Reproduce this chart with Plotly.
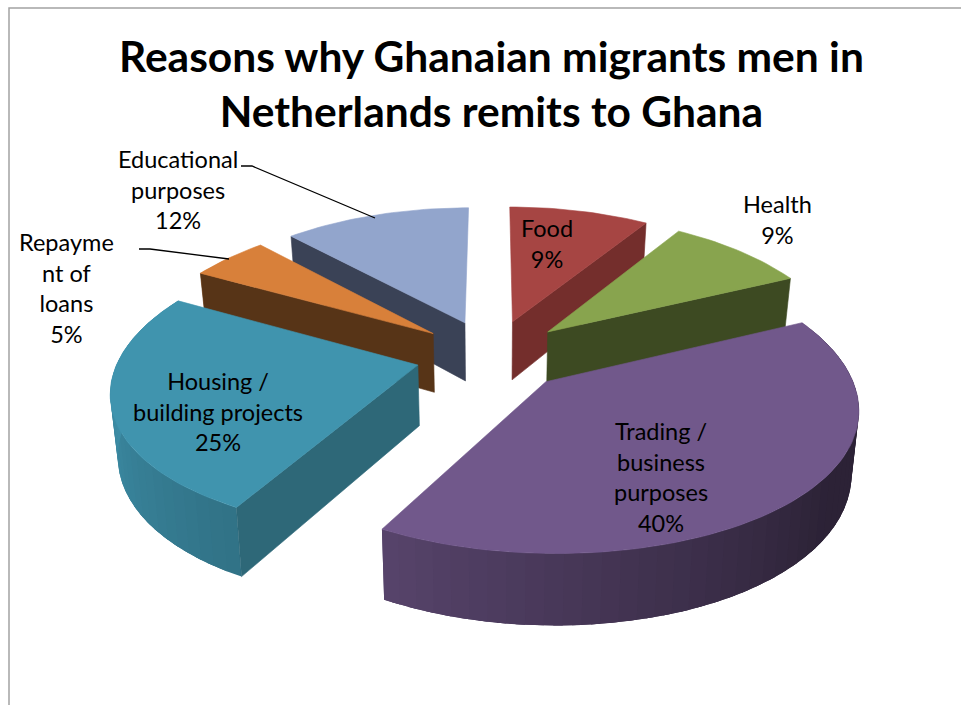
import numpy as np
import plotly.graph_objects as go

# Remittance shares, clockwise from twelve o'clock
categories = ["Food", "Health", "Trading / business purposes", "Housing / building projects",
              "Repayment of loans", "Educational purposes"]
shares = [9, 9, 40, 25, 5, 12]
top_colors = ["#A64543", "#88A44E", "#71588B", "#4094AE", "#D8803A", "#92A5CC"]
face_colors = ["#742E2C", "#3D4A22", "#3A2D48", "#2E6878", "#573417", "#3A4256"]
title_text = "Reasons why Ghanaian migrants men in<br>Netherlands remits to Ghana"
label_lines = ["Food", "Health", "Trading /<br>business<br>purposes", "Housing /<br>building projects",
               "Repayme<br>nt of<br>loans", "Educational<br>purposes"]
label_anchor = [(547, 243), (777, 219), (661, 477), (218, 411), (66, 288), (178, 189)]

# Camera used to flatten the exploded pie onto the page
CX, CY = 492.0, 355.0
SCALE_X, SCALE_Y = 298.0, 139.5
PERSPECTIVE_X = 0.16
PERSPECTIVE_Y = 0.14
EXPLODE = 0.256
THICKNESS = 60.0
BOTTOM_SHRINK = 0.98
FONT = "Lato"
LABEL_SIZE = 23.5
TITLE_SIZE = 42.5


def project(x, y, lower=False):
    wx = 1 + PERSPECTIVE_X * y
    wy = 1 + PERSPECTIVE_Y * y
    q = BOTTOM_SHRINK if lower else 1.0
    drop = THICKNESS / wy if lower else 0.0
    return CX + SCALE_X * x / wx * q, CY - SCALE_Y * y / wy + drop


def wall_shade(theta):
    # Light falls from the left, so the rim darkens towards the lower right
    return np.interp(theta, [125, 208, 270], [0.39, 0.77, 0.97])


def scale_color(hex_color, factor):
    rgb = [int(hex_color[i:i + 2], 16) for i in (1, 3, 5)]
    return "rgb({},{},{})".format(*[int(c * factor) for c in rgb])


def polygon(xs, ys, color, width=0.6):
    return go.Scatter(x=xs, y=ys, mode="lines", fill="toself", fillcolor=color,
                      line=dict(color=color, width=width), hoverinfo="skip", showlegend=False)


edges = np.concatenate([[0], np.cumsum(shares)]) / sum(shares) * 360
fig = go.Figure()

# Painter's order: back slices first, the large front slice last
for i in [5, 0, 1, 4, 3, 2]:
    a0, a1 = edges[i], edges[i + 1]
    mid = np.radians((a0 + a1) / 2)
    ox, oy = EXPLODE * np.sin(mid), EXPLODE * np.cos(mid)
    theta = np.arange(a0, a1 + 1.5, 1.5)
    theta[-1] = a1
    rx = ox + np.sin(np.radians(theta))
    ry = oy + np.cos(np.radians(theta))

    # Rim, shaded piece by piece; each piece runs under the next so no seams show
    for j in range(0, len(theta) - 1, 2):
        t = theta[j:j + 6]
        if t.max() < 70 or t.min() > 300:
            continue
        px = ox + np.sin(np.radians(t))
        py = oy + np.cos(np.radians(t))
        ux, uy = project(px, py)
        lx, ly = project(px, py, lower=True)
        shade = wall_shade(theta[j:j + 3].mean())
        fig.add_trace(polygon(np.r_[ux, lx[::-1], ux[0]], np.r_[uy, ly[::-1], uy[0]],
                              scale_color(top_colors[i], shade), width=0))

    # Cut faces, keeping only those turned towards the viewer
    for k, normal in ((0, a0 - 90), (-1, a1 + 90)):
        if np.cos(np.radians(normal)) >= 0:
            continue
        xa, ya = project(ox, oy)
        xb, yb = project(rx[k], ry[k])
        xc, yc = project(rx[k], ry[k], lower=True)
        xd, yd = project(ox, oy, lower=True)
        fig.add_trace(polygon([xa, xb, xc, xd, xa], [ya, yb, yc, yd, ya], face_colors[i]))

    # Top surface
    tx, ty = project(np.r_[ox, rx, ox], np.r_[oy, ry, oy])
    fig.add_trace(polygon(tx, ty, top_colors[i]))

# Leader lines for the two labels outside the pie
leaders = [([241, 252, 375], [166, 166, 218]), ([139, 150, 229], [249, 249, 259])]
for lx, ly in leaders:
    fig.add_trace(go.Scatter(x=lx, y=ly, mode="lines", line=dict(color="black", width=1.3),
                             hoverinfo="skip", showlegend=False))

for text, share, (ax, ay) in zip(label_lines, shares, label_anchor):
    fig.add_annotation(x=ax, y=ay, text=f"{text}<br>{share}%", showarrow=False,
                       font=dict(family=FONT, size=LABEL_SIZE, color="black"), align="center")

fig.add_annotation(x=491, y=83, text=title_text, showarrow=False, align="center",
                   font=dict(family=FONT, size=TITLE_SIZE, color="black", weight="bold"))

# Thin frame round the chart area
frame = dict(type="rect", x0=9, y0=8, x1=975, y1=720, line=dict(color="#A3A3A3", width=1.5),
             fillcolor="rgba(0,0,0,0)", layer="below")

fig.update_layout(
    width=961, height=705, margin=dict(l=0, r=0, t=0, b=0),
    paper_bgcolor="white", plot_bgcolor="white", showlegend=False, shapes=[frame],
    xaxis=dict(range=[0, 961], visible=False, fixedrange=True),
    yaxis=dict(range=[705, 0], visible=False, fixedrange=True),
)
fig.write_html("out.html", config=dict(displayModeBar=False))
